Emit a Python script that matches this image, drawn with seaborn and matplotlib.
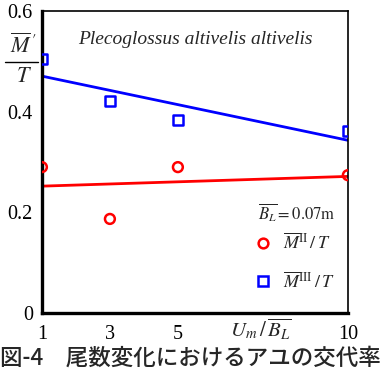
import matplotlib
matplotlib.use("Agg")
import matplotlib.pyplot as plt
from matplotlib.lines import Line2D
import seaborn as sns
import pandas as pd

# Flow-speed ratio U_m / B_L and replacement rates per fish count
ratio = [1, 3, 5, 10]
rate_m2 = [0.290, 0.187, 0.290, 0.274]   # M^II / T
rate_m3 = [0.505, 0.421, 0.383, 0.362]   # M^III / T
yticks = [0, 0.2, 0.4, 0.6]
ytick_labels = ["0", "0.2", "0.4", "0.6"]
xticks = [1, 3, 5, 10]
xtick_labels = ["1", "3", "5", "10"]

df2 = pd.DataFrame({"x": ratio, "y": rate_m2})
df3 = pd.DataFrame({"x": ratio, "y": rate_m3})

sns.set_style("white")
plt.rcParams["font.family"] = "serif"
plt.rcParams["font.serif"] = ["Liberation Serif", "Times New Roman", "DejaVu Serif"]
plt.rcParams["mathtext.fontset"] = "stix"

fig = plt.figure(figsize=(3.81, 3.85), dpi=100)
ax = fig.add_axes([0.110, 0.187, 0.803, 0.784])

red = "#ff0000"
blue = "#0000ff"

# Least-squares trend lines
sns.regplot(data=df2, x="x", y="y", ax=ax, scatter=False, ci=None,
            line_kws={"color": red, "lw": 2.0})
sns.regplot(data=df3, x="x", y="y", ax=ax, scatter=False, ci=None,
            line_kws={"color": blue, "lw": 2.0})

# Measured points
sns.scatterplot(data=df2, x="x", y="y", ax=ax, marker="o", s=50,
                facecolors="none", edgecolor=red, linewidth=1.8, zorder=5)
sns.scatterplot(data=df3, x="x", y="y", ax=ax, marker="s", s=52,
                facecolors="none", edgecolor=blue, linewidth=1.8, zorder=5)

ax.set_xlim(1, 10)
ax.set_ylim(0, 0.6)
ax.set_xticks(xticks)
ax.set_xticklabels(xtick_labels)
ax.set_yticks(yticks)
ax.set_yticklabels(ytick_labels)
ax.set_xlabel("")
ax.set_ylabel("")
ax.tick_params(axis="both", direction="out", length=3.5, width=1.5,
               labelsize=14.5, colors="black", pad=3)
ax.tick_params(axis="x", pad=5)

for side in ["left", "bottom"]:
    ax.spines[side].set_linewidth(2.4)
for side in ["top", "right"]:
    ax.spines[side].set_linewidth(1.2)
for sp in ax.spines.values():
    sp.set_color("black")
    sp.set_visible(True)

# Species name
ax.text(0.5, 0.905, "Plecoglossus altivelis altivelis", transform=ax.transAxes,
        ha="center", va="center", style="italic", fontsize=14)

# Legend block
ax.text(0.705, 0.332, r"$\overline{B_L}=0.07\mathrm{m}$", transform=ax.transAxes,
        ha="left", va="center", fontsize=12)
handles = [
    Line2D([], [], ls="none", marker="o", mfc="none", mec=red, mew=1.8, ms=7,
           label=r"$\overline{M}^{\mathrm{II}}\,/\,T$"),
    Line2D([], [], ls="none", marker="s", mfc="none", mec=blue, mew=1.8, ms=7,
           label=r"$\overline{M}^{\mathrm{III}}\,/\,T$"),
]
ax.legend(handles=handles, loc="upper left", bbox_to_anchor=(0.67, 0.29),
          frameon=False, fontsize=13, handlelength=1.0, handletextpad=0.6,
          labelspacing=1.0, borderaxespad=0)

# Axis titles
fig.text(0.683, 0.143, r"$U_m\,/\,\overline{B_L}$", ha="center", va="center",
         fontsize=15)
fig.text(0.062, 0.880, r"$\overline{M}\,'$", ha="center", va="center", fontsize=16)
fig.add_artist(Line2D([0.012, 0.100], [0.838, 0.838], color="black", lw=1.0,
                      transform=fig.transFigure))
fig.text(0.062, 0.800, r"$T$", ha="center", va="center", fontsize=16)

# Caption
fig.text(0.5, 0.070, "図-4　尾数変化におけるアユの交代率", ha="center", va="center",
         fontsize=16.2, fontweight="medium",
         family=["Noto Sans CJK JP", "DejaVu Sans"])

fig.savefig("out.png", dpi=100)
